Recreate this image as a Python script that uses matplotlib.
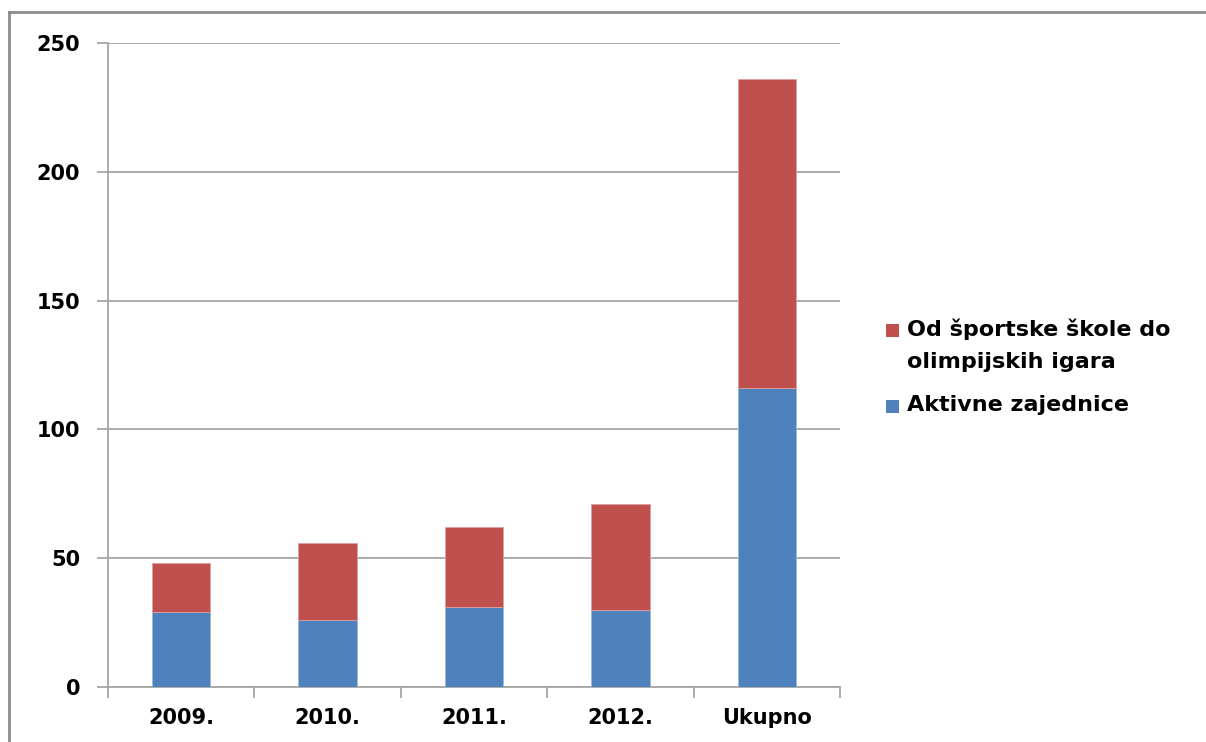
import matplotlib
matplotlib.use("Agg")
import matplotlib.pyplot as plt
from matplotlib.patches import Rectangle
from matplotlib.lines import Line2D
import numpy as np

categories = ["2009.", "2010.", "2011.", "2012.", "Ukupno"]
aktivne = [29, 26, 31, 30, 116]
sportske = [19, 30, 31, 41, 120]
yticks = [0, 50, 100, 150, 200, 250]
series_names = ["Od športske škole do\nolimpijskih igara", "Aktivne zajednice"]

blue = "#4F81BD"
red = "#C0504D"
grid_c = "#A6A6A6"

plt.rcParams['font.family'] = ['DejaVu Sans']

W, H = 1206, 742
fig = plt.figure(figsize=(W / 100, H / 100), dpi=100)
ax = fig.add_axes([108/W, 55/H, 732/W, 644/H])

x = np.arange(len(categories))
ax.bar(x, aktivne, width=0.4, color=blue, edgecolor="#9DB9DE", linewidth=0.6, zorder=3)
ax.bar(x, sportske, bottom=aktivne, width=0.4, color=red, edgecolor="#E0A09E", linewidth=0.6,
       zorder=3)

ax.set_xlim(-0.5, len(categories) - 0.5)
ax.set_ylim(0, 250)
ax.set_yticks(yticks)
ax.set_yticklabels([str(v) for v in yticks], fontsize=15, fontweight='heavy')
ax.yaxis.grid(True, color=grid_c, linewidth=1.3, zorder=0)
ax.set_axisbelow(True)

ax.set_xticks(np.arange(-0.5, len(categories), 1.0))
ax.set_xticklabels([])
ax.set_xticks(x, minor=True)
ax.set_xticklabels(categories, minor=True, fontsize=15, fontweight='heavy')
ax.tick_params(axis='x', which='minor', length=0, pad=15)
ax.tick_params(axis='x', which='major', length=8, color=grid_c, width=1.3)
ax.tick_params(axis='y', length=8, color=grid_c, width=1.3, pad=12)

for s in ['top', 'right']:
    ax.spines[s].set_visible(False)
for s in ['left', 'bottom']:
    ax.spines[s].set_color(grid_c)
    ax.spines[s].set_linewidth(1.3)

# legend (manual, to keep marker aligned with first text line as in reference)
leg_items = [(series_names[0], red, 330), (series_names[1], blue, 406)]
for label, col, yc in leg_items:
    fig.add_artist(Rectangle((886/W, 1 - (yc + 7)/H), 13/W, 13/H, transform=fig.transFigure,
                             facecolor=col, edgecolor='none'))
    fig.text(907/W, 1 - (yc - 11)/H, label, fontsize=16, fontweight='heavy',
             va='top', ha='left', linespacing=1.7)

# outer border (top and left visible)
fig.add_artist(Line2D([9/W, 1.0], [1 - 12/H, 1 - 12/H], transform=fig.transFigure,
                      color="#8C8C8C", linewidth=2.0))
fig.add_artist(Line2D([9/W, 9/W], [0, 1 - 12/H], transform=fig.transFigure,
                      color="#8C8C8C", linewidth=2.0))

fig.savefig("out.png", dpi=100)
